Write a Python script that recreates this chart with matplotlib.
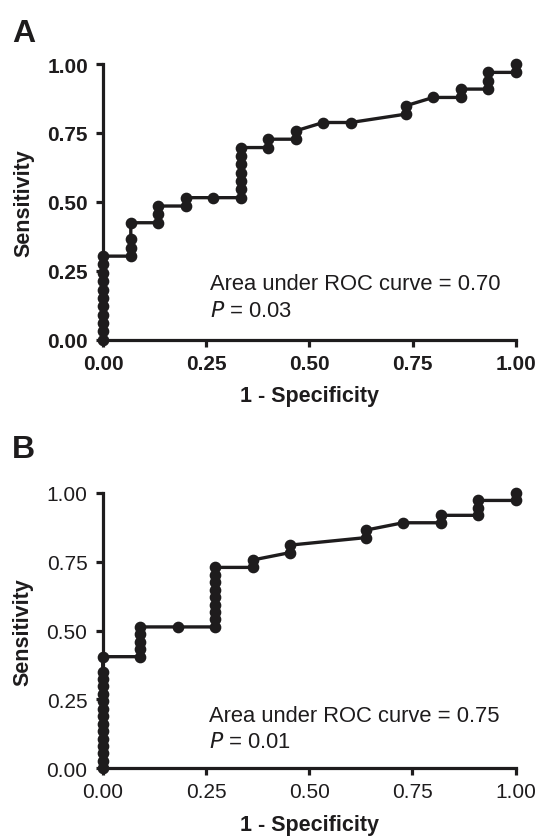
import matplotlib.pyplot as plt

plt.rcParams["font.family"] = ["Liberation Sans", "DejaVu Sans"]

INK = "#1e1c1d"

# Panel A: 15 negatives, 33 positives
a_fpr = [0, 0, 0, 0, 0, 0, 0, 0, 0, 0, 0,
         1, 1, 1, 1,
         2, 2, 2,
         3, 3,
         4,
         5, 5, 5, 5, 5, 5, 5,
         6, 6,
         7, 7,
         8,
         9,
         11, 11,
         12,
         13, 13,
         14, 14, 14,
         15, 15]
a_tpr = [0, 1, 2, 3, 4, 5, 6, 7, 8, 9, 10,
         10, 11, 12, 14,
         14, 15, 16,
         16, 17,
         17,
         17, 18, 19, 20, 21, 22, 23,
         23, 24,
         24, 25,
         26,
         26,
         27, 28,
         29,
         29, 30,
         30, 31, 32,
         32, 33]
A_NEG, A_POS = 15, 33

# Panel B: 11 negatives, 37 positives
b_fpr = [0] * 14 + [0,
         1, 1, 1, 1, 1,
         2,
         3, 3, 3, 3, 3, 3, 3, 3, 3,
         4, 4,
         5, 5,
         7, 7,
         8,
         9, 9,
         10, 10, 10,
         11, 11]
b_tpr = list(range(14)) + [15,
         15, 16, 17, 18, 19,
         19,
         19, 20, 21, 22, 23, 24, 25, 26, 27,
         27, 28,
         29, 30,
         31, 32,
         33,
         33, 34,
         34, 35, 36,
         36, 37]
B_NEG, B_POS = 11, 37

TICKS = [0, 0.25, 0.5, 0.75, 1.0]
TICK_LABELS = ["0.00", "0.25", "0.50", "0.75", "1.00"]

panels = [
    {"letter": "A", "fpr": a_fpr, "tpr": a_tpr, "neg": A_NEG, "pos": A_POS,
     "auc": "0.70", "p": "0.03", "tick_weight": "bold",
     "rect": [0.192, 0.593, 0.7665, 0.3293], "text_y": 0.184, "letter_y": 0.9498},
    {"letter": "B", "fpr": b_fpr, "tpr": b_tpr, "neg": B_NEG, "pos": B_POS,
     "auc": "0.75", "p": "0.01", "tick_weight": "normal",
     "rect": [0.1909, 0.0809, 0.7676, 0.3289], "text_y": 0.173, "letter_y": 0.4528},
]

fig = plt.figure(figsize=(5.38, 8.37), dpi=100)

for pnl in panels:
    ax = fig.add_axes(pnl["rect"])
    x = [v / pnl["neg"] for v in pnl["fpr"]]
    y = [v / pnl["pos"] for v in pnl["tpr"]]
    ax.plot(x, y, color=INK, lw=2.4, marker="o", ms=7.4, mfc=INK, mec=INK,
            clip_on=False, zorder=3)
    ax.set_xlim(0, 1)
    ax.set_ylim(0, 1)
    for s in ("top", "right"):
        ax.spines[s].set_visible(False)
    for s in ("left", "bottom"):
        ax.spines[s].set_linewidth(2.3)
        ax.spines[s].set_color(INK)
    ax.set_xticks(TICKS)
    ax.set_yticks(TICKS)
    ax.set_xticklabels(TICK_LABELS, fontsize=15, fontweight=pnl["tick_weight"], color=INK)
    ax.set_yticklabels(TICK_LABELS, fontsize=15, fontweight=pnl["tick_weight"], color=INK)
    ax.tick_params(axis="both", length=5, width=2.3, color=INK)
    ax.tick_params(axis="x", pad=5)
    ax.tick_params(axis="y", pad=6)
    ax.set_xlabel("1 - Specificity", fontsize=15.5, fontweight="bold", color=INK)
    ax.set_ylabel("Sensitivity", fontsize=15.5, fontweight="bold", color=INK)
    ax.yaxis.set_label_coords(-0.168, 0.5)
    ax.xaxis.set_label_coords(0.5, -0.165)
    ax.text(0.258, pnl["text_y"], "Area under ROC curve = " + pnl["auc"],
            fontsize=15.8, color=INK, transform=ax.transData)
    ax.text(0.258, pnl["text_y"] - 0.097, "$\\mathit{P}$ = " + pnl["p"],
            fontsize=15.8, color=INK, transform=ax.transData)
    fig.text(0.022, pnl["letter_y"], pnl["letter"], fontsize=23, fontweight="bold",
             color=INK, va="baseline")

fig.savefig("out.png", dpi=100)
